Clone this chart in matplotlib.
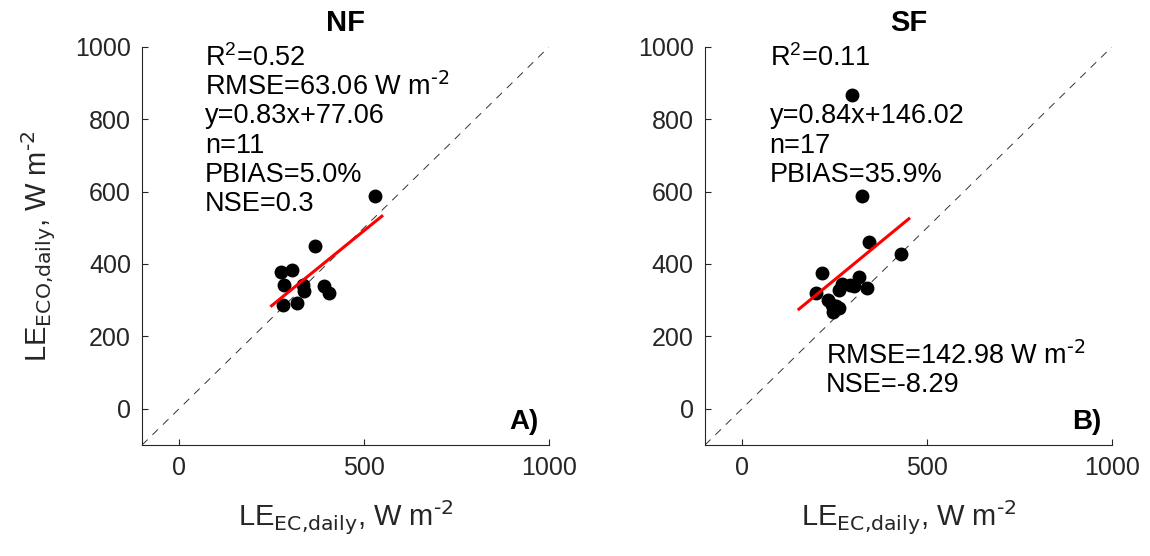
import numpy as np
import matplotlib
matplotlib.use("Agg")
import matplotlib.pyplot as plt

plt.rcParams['font.family'] = ['Liberation Sans', 'DejaVu Sans']
plt.rcParams['mathtext.default'] = 'regular'

# NF panel
nf_x = [530, 368, 275, 305, 284, 336, 338, 393, 404, 280, 320]
nf_y = [587, 450, 379, 384, 342, 342, 324, 340, 321, 286, 292]
nf_fit = (0.83, 77.06)
nf_fit_range = [250, 548]

# SF panel
sf_x = [297, 325, 343, 430, 215, 199, 271, 262, 316, 302, 339, 233, 242, 262, 246, 291, 255]
sf_y = [866, 587, 461, 427, 375, 320, 345, 329, 365, 338, 334, 301, 288, 279, 267, 342, 283]
sf_fit = (0.84, 146.02)
sf_fit_range = [154, 451]

ticks = [0, 500, 1000]
yticks = [0, 200, 400, 600, 800, 1000]
lims = (-100, 1000)

fig = plt.figure(figsize=(11.5, 5.56), dpi=100)
ax1 = fig.add_axes([0.1235, 0.1996, 0.354, 0.7164])
ax2 = fig.add_axes([0.613, 0.1996, 0.354, 0.7164])

axcol = '#262626'
fs = 19.5
unit = r'W m$^{\text{-2}}$'

def panel(ax, x, y, fit, rng, title, tag):
    ax.plot(lims, lims, color='#333333', linestyle=(0, (8, 7)), linewidth=0.7)
    ax.plot(x, y, 'o', color='black', markersize=9)
    xr = np.array(rng, dtype=float)
    ax.plot(xr, fit[0] * xr + fit[1], color='red', linewidth=2.2)
    ax.set_xlim(lims)
    ax.set_ylim(lims)
    ax.set_xticks(ticks)
    ax.set_yticks(yticks)
    ax.tick_params(direction='in', length=4, labelsize=18, colors=axcol, pad=8)
    for s in ['top', 'right']:
        ax.spines[s].set_visible(False)
    for s in ['left', 'bottom']:
        ax.spines[s].set_color(axcol)
        ax.spines[s].set_linewidth(0.8)
    ax.set_title(title, fontsize=21, fontweight='bold', pad=11)
    ax.text(0.975, 0.025, tag, transform=ax.transAxes, ha='right', va='bottom',
            fontsize=20, fontweight='bold')
    ax.set_xlabel(r'LE$_{\text{EC,daily}}$, ' + unit, fontsize=21, color=axcol, labelpad=13)

panel(ax1, nf_x, nf_y, nf_fit, nf_fit_range, 'NF', 'A)')
panel(ax2, sf_x, sf_y, sf_fit, sf_fit_range, 'SF', 'B)')
ax1.set_ylabel(r'LE$_{\text{ECO,daily}}$, ' + unit, fontsize=21, color=axcol, labelpad=12)

nf_lines = ['R$^2$=0.52', 'RMSE=63.06 ' + unit, 'y=0.83x+77.06', 'n=11',
            'PBIAS=5.0%', 'NSE=0.3']
for i, t in enumerate(nf_lines):
    ax1.text(0.154, 0.972 - i * 0.0735, t, transform=ax1.transAxes, fontsize=fs,
             va='center', ha='left')

sf_lines = ['R$^2$=0.11', '', 'y=0.84x+146.02', 'n=17', 'PBIAS=35.9%']
for i, t in enumerate(sf_lines):
    ax2.text(0.159, 0.972 - i * 0.0735, t, transform=ax2.transAxes, fontsize=fs,
             va='center', ha='left')
ax2.text(0.297, 0.223, 'RMSE=142.98 ' + unit, transform=ax2.transAxes,
         fontsize=fs, va='center', ha='left')
ax2.text(0.297, 0.150, 'NSE=-8.29', transform=ax2.transAxes,
         fontsize=fs, va='center', ha='left')

fig.savefig('out.png', dpi=100)
